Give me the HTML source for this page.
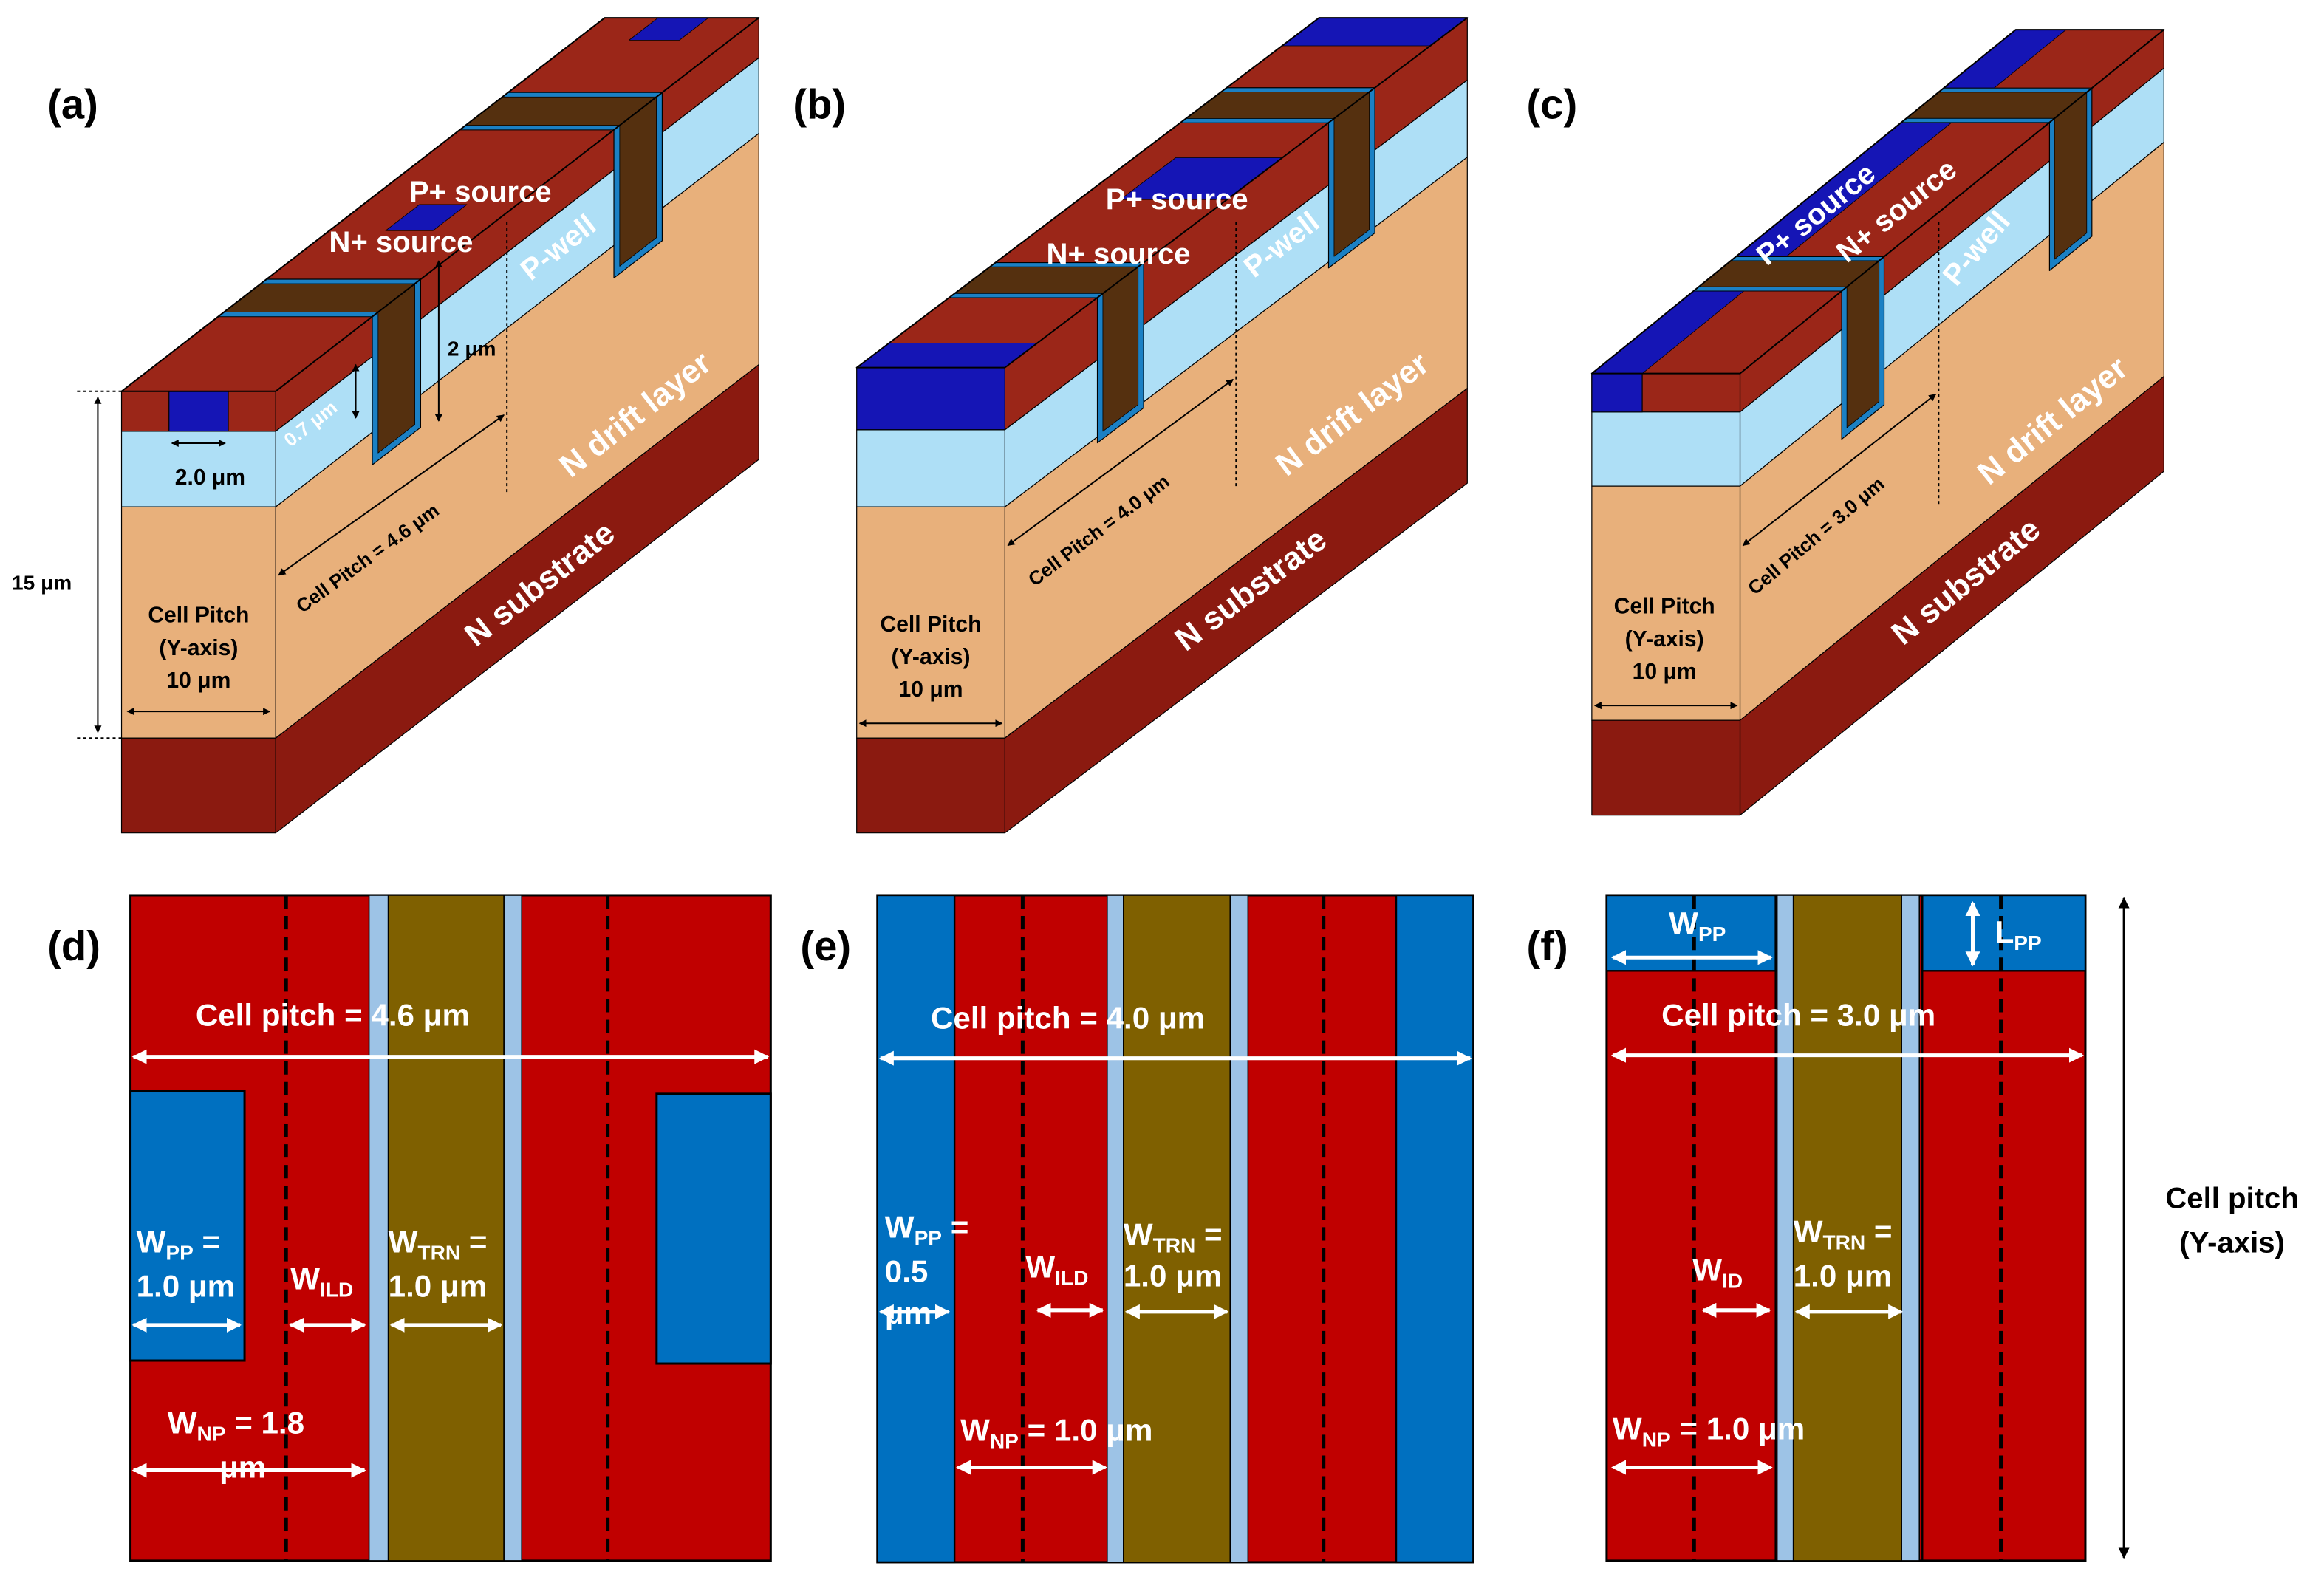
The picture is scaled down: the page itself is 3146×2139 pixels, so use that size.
<!DOCTYPE html>
<html><head><meta charset="utf-8"><style>
html,body{margin:0;padding:0;background:#fff;width:3146px;height:2139px;overflow:hidden}
svg{display:block}
text{font-family:"Liberation Sans",Arial,sans-serif;font-weight:bold}
</style></head><body>
<svg id="s" width="3146" height="2139" viewBox="0 0 1568 1066" preserveAspectRatio="none" xmlns="http://www.w3.org/2000/svg">
<defs>
<marker id="ab" viewBox="0 0 10 10" refX="9" refY="5" markerWidth="5" markerHeight="5" orient="auto-start-reverse"><path d="M0,0L10,5L0,10z" fill="#000"/></marker>
<marker id="aw" viewBox="0 0 10 10" refX="9" refY="5" markerWidth="4" markerHeight="4" orient="auto-start-reverse"><path d="M0,0L10,5L0,10z" fill="#fff"/></marker>
</defs>
<g id="g3d"></g>
<g id="g2d">
<rect x="88" y="604" width="432" height="449" fill="#c00000" stroke="#000" stroke-width="1.5"/>
<rect x="88" y="736" width="77" height="182" fill="#0070c0" stroke="#000" stroke-width="1.5"/>
<rect x="443" y="738" width="77" height="182" fill="#0070c0" stroke="#000" stroke-width="1.5"/>
<rect x="249" y="604" width="13" height="449" fill="#9dc3e6" stroke="#000" stroke-width="0.8"/>
<rect x="262" y="604" width="78" height="449" fill="#7f6000" stroke="#000" stroke-width="0.8"/>
<rect x="340" y="604" width="12" height="449" fill="#9dc3e6" stroke="#000" stroke-width="0.8"/>
<line x1="193" y1="604" x2="193" y2="1053" stroke="#000" stroke-width="2.5" stroke-dasharray="9,5"/>
<line x1="410" y1="604" x2="410" y2="1053" stroke="#000" stroke-width="2.5" stroke-dasharray="9,5"/>
<rect x="592" y="604" width="402" height="450" fill="#c00000" stroke="#000" stroke-width="1.5"/>
<rect x="592" y="604" width="52" height="450" fill="#0070c0" stroke="#000" stroke-width="1.2"/>
<rect x="942" y="604" width="52" height="450" fill="#0070c0" stroke="#000" stroke-width="1.2"/>
<rect x="747" y="604" width="11" height="450" fill="#9dc3e6" stroke="#000" stroke-width="0.8"/>
<rect x="758" y="604" width="72" height="450" fill="#7f6000" stroke="#000" stroke-width="0.8"/>
<rect x="830" y="604" width="12" height="450" fill="#9dc3e6" stroke="#000" stroke-width="0.8"/>
<line x1="690" y1="604" x2="690" y2="1054" stroke="#000" stroke-width="2.5" stroke-dasharray="9,5"/>
<line x1="893" y1="604" x2="893" y2="1054" stroke="#000" stroke-width="2.5" stroke-dasharray="9,5"/>
<rect x="1084" y="604" width="323" height="449" fill="#c00000" stroke="#000" stroke-width="1.5"/>
<rect x="1084" y="604" width="114" height="51" fill="#0070c0" stroke="#000" stroke-width="1.2"/>
<rect x="1297" y="604" width="110" height="51" fill="#0070c0" stroke="#000" stroke-width="1.2"/>
<line x1="1198" y1="604" x2="1198" y2="1053" stroke="#000" stroke-width="1.2"/>
<line x1="1297" y1="604" x2="1297" y2="1053" stroke="#000" stroke-width="1.2"/>
<rect x="1199" y="604" width="11" height="449" fill="#9dc3e6" stroke="#000" stroke-width="0.8"/>
<rect x="1210" y="604" width="73" height="449" fill="#7f6000" stroke="#000" stroke-width="0.8"/>
<rect x="1283" y="604" width="12" height="449" fill="#9dc3e6" stroke="#000" stroke-width="0.8"/>
<line x1="1143" y1="604" x2="1143" y2="1053" stroke="#000" stroke-width="2.5" stroke-dasharray="9,5"/>
<line x1="1350" y1="604" x2="1350" y2="1053" stroke="#000" stroke-width="2.5" stroke-dasharray="9,5"/>
<line x1="1433" y1="606" x2="1433" y2="1051" stroke="#000" stroke-width="1.5" marker-start="url(#ab)" marker-end="url(#ab)"/>
<g stroke="#fff" stroke-width="2.5" fill="none">
<line x1="90" y1="713" x2="518" y2="713" marker-start="url(#aw)" marker-end="url(#aw)"/>
<line x1="90" y1="894" x2="162" y2="894" marker-start="url(#aw)" marker-end="url(#aw)"/>
<line x1="196" y1="894" x2="246" y2="894" marker-start="url(#aw)" marker-end="url(#aw)"/>
<line x1="264" y1="894" x2="338" y2="894" marker-start="url(#aw)" marker-end="url(#aw)"/>
<line x1="90" y1="992" x2="246" y2="992" marker-start="url(#aw)" marker-end="url(#aw)"/>
<line x1="594" y1="714" x2="992" y2="714" marker-start="url(#aw)" marker-end="url(#aw)"/>
<line x1="594" y1="885" x2="640" y2="885" marker-start="url(#aw)" marker-end="url(#aw)"/>
<line x1="700" y1="884" x2="744" y2="884" marker-start="url(#aw)" marker-end="url(#aw)"/>
<line x1="760" y1="885" x2="828" y2="885" marker-start="url(#aw)" marker-end="url(#aw)"/>
<line x1="646" y1="990" x2="746" y2="990" marker-start="url(#aw)" marker-end="url(#aw)"/>
<line x1="1088" y1="646" x2="1195" y2="646" marker-start="url(#aw)" marker-end="url(#aw)"/>
<line x1="1331" y1="609" x2="1331" y2="651" marker-start="url(#aw)" marker-end="url(#aw)"/>
<line x1="1088" y1="712" x2="1405" y2="712" marker-start="url(#aw)" marker-end="url(#aw)"/>
<line x1="1149" y1="884" x2="1194" y2="884" marker-start="url(#aw)" marker-end="url(#aw)"/>
<line x1="1212" y1="885" x2="1283" y2="885" marker-start="url(#aw)" marker-end="url(#aw)"/>
<line x1="1088" y1="990" x2="1195" y2="990" marker-start="url(#aw)" marker-end="url(#aw)"/>
</g>
<g fill="#fff" font-size="21">
<text x="132" y="692">Cell pitch = 4.6 μm</text>
<text x="92" y="845">W<tspan font-size="14" dy="5">PP</tspan><tspan dy="-5"> =</tspan></text>
<text x="92" y="875">1.0 μm</text>
<text x="196" y="870">W<tspan font-size="14" dy="5">ILD</tspan></text>
<text x="262" y="845">W<tspan font-size="14" dy="5">TRN</tspan><tspan dy="-5"> =</tspan></text>
<text x="262" y="875">1.0 μm</text>
<text x="113" y="967">W<tspan font-size="14" dy="5">NP</tspan><tspan dy="-5"> = 1.8</tspan></text>
<text x="148" y="997">μm</text>
<text x="628" y="694">Cell pitch = 4.0 μm</text>
<text x="597" y="835">W<tspan font-size="14" dy="5">PP</tspan><tspan dy="-5"> =</tspan></text>
<text x="597" y="865">0.5</text>
<text x="597" y="893">μm</text>
<text x="692" y="862">W<tspan font-size="14" dy="5">ILD</tspan></text>
<text x="758" y="840">W<tspan font-size="14" dy="5">TRN</tspan><tspan dy="-5"> =</tspan></text>
<text x="758" y="868">1.0 μm</text>
<text x="648" y="972">W<tspan font-size="14" dy="5">NP</tspan><tspan dy="-5"> = 1.0 μm</tspan></text>
<text x="1126" y="630">W<tspan font-size="14" dy="5">PP</tspan></text>
<text x="1346" y="636">L<tspan font-size="14" dy="5">PP</tspan></text>
<text x="1121" y="692">Cell pitch = 3.0 μm</text>
<text x="1142" y="864">W<tspan font-size="14" dy="5">ID</tspan></text>
<text x="1210" y="838">W<tspan font-size="14" dy="5">TRN</tspan><tspan dy="-5"> =</tspan></text>
<text x="1210" y="868">1.0 μm</text>
<text x="1088" y="971">W<tspan font-size="14" dy="5">NP</tspan><tspan dy="-5"> = 1.0 μm</tspan></text>
</g>
<g fill="#000" font-size="28">
<text x="32" y="80">(a)</text><text x="535" y="80">(b)</text><text x="1030" y="80">(c)</text>
<text x="32" y="648">(d)</text><text x="540" y="648">(e)</text><text x="1030" y="648">(f)</text>
</g>
<g fill="#000" font-size="20" text-anchor="middle">
<text x="1506" y="815">Cell pitch</text><text x="1506" y="845">(Y-axis)</text>
</g>
</g>
<script>
var S=document.getElementById('g3d'),NS='http://www.w3.org/2000/svg';
function el(t,a,txt){var e=document.createElementNS(NS,t);for(var k in a)e.setAttribute(k,a[k]);if(txt)e.textContent=txt;S.appendChild(e);return e;}
function poly(pts,fill,sw){el('polygon',{points:pts.map(function(p){return p[0].toFixed(1)+','+p[1].toFixed(1)}).join(' '),fill:fill,stroke:'#000','stroke-width':sw||0.6,'stroke-linejoin':'round'});}
var RED='#9b2618',SUB='#8b1a10',TAN='#e8b07b',LB='#aedff6',BL='#1515b5',BR='#55300f',LN='#1b80c4';
function panel(o){
 var fx=o.x,fy=o.y,W=o.W,D=o.D;
 function P(u,t,v){return [fx+u+D[0]*t,fy+v+D[1]*t];}
 var L=o.layers, FL=o.flayers||o.layers;
 L.forEach(function(l){poly([P(W,0,l[0]),P(W,1,l[0]),P(W,1,l[1]),P(W,0,l[1])],l[2]);});
 FL.forEach(function(l){poly([P(0,0,l[0]),P(W,0,l[0]),P(W,0,l[1]),P(0,0,l[1])],l[2]);});
 (o.front||[]).forEach(function(f){poly([P(f[0],0,f[2]),P(f[1],0,f[2]),P(f[1],0,f[3]),P(f[0],0,f[3])],BL);});
 poly([P(0,0,0),P(W,0,0),P(W,1,0),P(0,1,0)],RED);
 (o.top||[]).forEach(function(f){poly([P(f[0],f[2],0),P(f[1],f[2],0),P(f[1],f[3],0),P(f[0],f[3],0)],BL,0.4);});
 o.tr.forEach(function(tr){var t1=tr[0],t2=tr[1],d=o.td,e=(t2-t1)*0.12;
  poly([P(0,t1,0),P(W,t1,0),P(W,t2,0),P(0,t2,0)],LN);
  poly([P(0,t1+e,0),P(W,t1+e,0),P(W,t2-e,0),P(0,t2-e,0)],BR,0.4);
  poly([P(W,t1,0),P(W,t2,0),P(W,t2,d),P(W,t1,d)],LN);
  poly([P(W,t1+e,0),P(W,t2-e,0),P(W,t2-e,d-5),P(W,t1+e,d-5)],BR,0.4);
  poly([P(0,t1,0),P(W,t1,0),P(W,t1+e,0),P(0,t1+e,0)],LN,0.4);
 });
 poly([P(0,0,0),P(W,0,0),P(W,1,0),P(0,1,0)],'none',1);
}
panel({x:82,y:264,W:104,D:[326,-252],td:100,
 layers:[[0,27,RED],[27,78,LB],[78,234,TAN],[234,298,SUB]],
 front:[[32,72,0,27]],top:[[38,70,0.43,0.5],[36,70,0.94,1]],tr:[[0.2,0.3],[0.7,0.8]]});
panel({x:578,y:248,W:100,D:[312,-236],td:98,
 layers:[[0,42,RED],[42,94,LB],[94,250,TAN],[250,314,SUB]],
 flayers:[[0,42,BL],[42,94,LB],[94,250,TAN],[250,314,SUB]],
 top:[[0,100,0,0.07],[28,100,0.48,0.6],[0,100,0.92,1]],tr:[[0.2,0.3],[0.7,0.8]]});
panel({x:1074,y:252,W:100,D:[286,-232],td:100,
 layers:[[0,26,RED],[26,76,LB],[76,234,TAN],[234,298,SUB]],
 front:[[0,34,0,26]],top:[[0,34,0,1]],tr:[[0.24,0.34],[0.73,0.83]]});
function ln(a){el('line',Object.assign({stroke:'#000','stroke-width':1},a));}
ln({x1:66,y1:268,x2:66,y2:494,'marker-start':'url(#ab)','marker-end':'url(#ab)'});
ln({x1:52,y1:264,x2:82,y2:264,'stroke-dasharray':'2,2'});ln({x1:52,y1:498,x2:82,y2:498,'stroke-dasharray':'2,2'});
ln({x1:86,y1:480,x2:182,y2:480,'marker-start':'url(#ab)','marker-end':'url(#ab)'});
ln({x1:188,y1:388,x2:340,y2:280,'marker-start':'url(#ab)','marker-end':'url(#ab)'});
ln({x1:342,y1:150,x2:342,y2:332,'stroke-dasharray':'2,2'});
ln({x1:296,y1:176,x2:296,y2:284,'marker-start':'url(#ab)','marker-end':'url(#ab)'});
ln({x1:240,y1:246,x2:240,y2:282,'marker-start':'url(#ab)','marker-end':'url(#ab)'});
ln({x1:116,y1:299,x2:152,y2:299,'marker-start':'url(#ab)','marker-end':'url(#ab)'});
ln({x1:580,y1:488,x2:676,y2:488,'marker-start':'url(#ab)','marker-end':'url(#ab)'});
ln({x1:680,y1:368,x2:832,y2:256,'marker-start':'url(#ab)','marker-end':'url(#ab)'});
ln({x1:834,y1:150,x2:834,y2:330,'stroke-dasharray':'2,2'});
ln({x1:1076,y1:476,x2:1172,y2:476,'marker-start':'url(#ab)','marker-end':'url(#ab)'});
ln({x1:1176,y1:368,x2:1306,y2:266,'marker-start':'url(#ab)','marker-end':'url(#ab)'});
ln({x1:1308,y1:150,x2:1308,y2:340,'stroke-dasharray':'2,2'});
function tx(x,y,s,fs,fill,rot,anchor){var a={x:x,y:y,'font-size':fs,fill:fill,'text-anchor':anchor||'start'};if(rot)a.transform='rotate('+rot+' '+x+' '+y+')';el('text',a,s);}
tx(276,136,'P+ source',20,'#fff');tx(222,170,'N+ source',20,'#fff');
tx(358,190,'P-well',20,'#fff',-38);tx(302,240,'2 μm',14,'#000');
tx(196,302,'0.7 μm',13,'#fff',-38);tx(118,327,'2.0 μm',15,'#000');
tx(8,398,'15 μm',14,'#000');
tx(134,420,'Cell Pitch',15,'#000',0,'middle');tx(134,442,'(Y-axis)',15,'#000',0,'middle');tx(134,464,'10 μm',15,'#000',0,'middle');
tx(204,414,'Cell Pitch = 4.6 μm',13,'#000',-36);
tx(385,323,'N drift layer',22,'#fff',-38);tx(321,437,'N substrate',22,'#fff',-38);
tx(746,141,'P+ source',20,'#fff');tx(706,178,'N+ source',20,'#fff');
tx(846,188,'P-well',20,'#fff',-38);
tx(628,426,'Cell Pitch',15,'#000',0,'middle');tx(628,448,'(Y-axis)',15,'#000',0,'middle');tx(628,470,'10 μm',15,'#000',0,'middle');
tx(698,396,'Cell Pitch = 4.0 μm',13,'#000',-37);
tx(868,322,'N drift layer',22,'#fff',-37);tx(800,440,'N substrate',22,'#fff',-37);
tx(1192,180,'P+ source',20,'#fff',-39);tx(1246,178,'N+ source',20,'#fff',-39);
tx(1320,194,'P-well',20,'#fff',-50);
tx(1123,414,'Cell Pitch',15,'#000',0,'middle');tx(1123,436,'(Y-axis)',15,'#000',0,'middle');tx(1123,458,'10 μm',15,'#000',0,'middle');
tx(1184,402,'Cell Pitch = 3.0 μm',13,'#000',-40);
tx(1342,328,'N drift layer',22,'#fff',-39);tx(1284,436,'N substrate',22,'#fff',-39);
</script>
</svg>
</body></html>
